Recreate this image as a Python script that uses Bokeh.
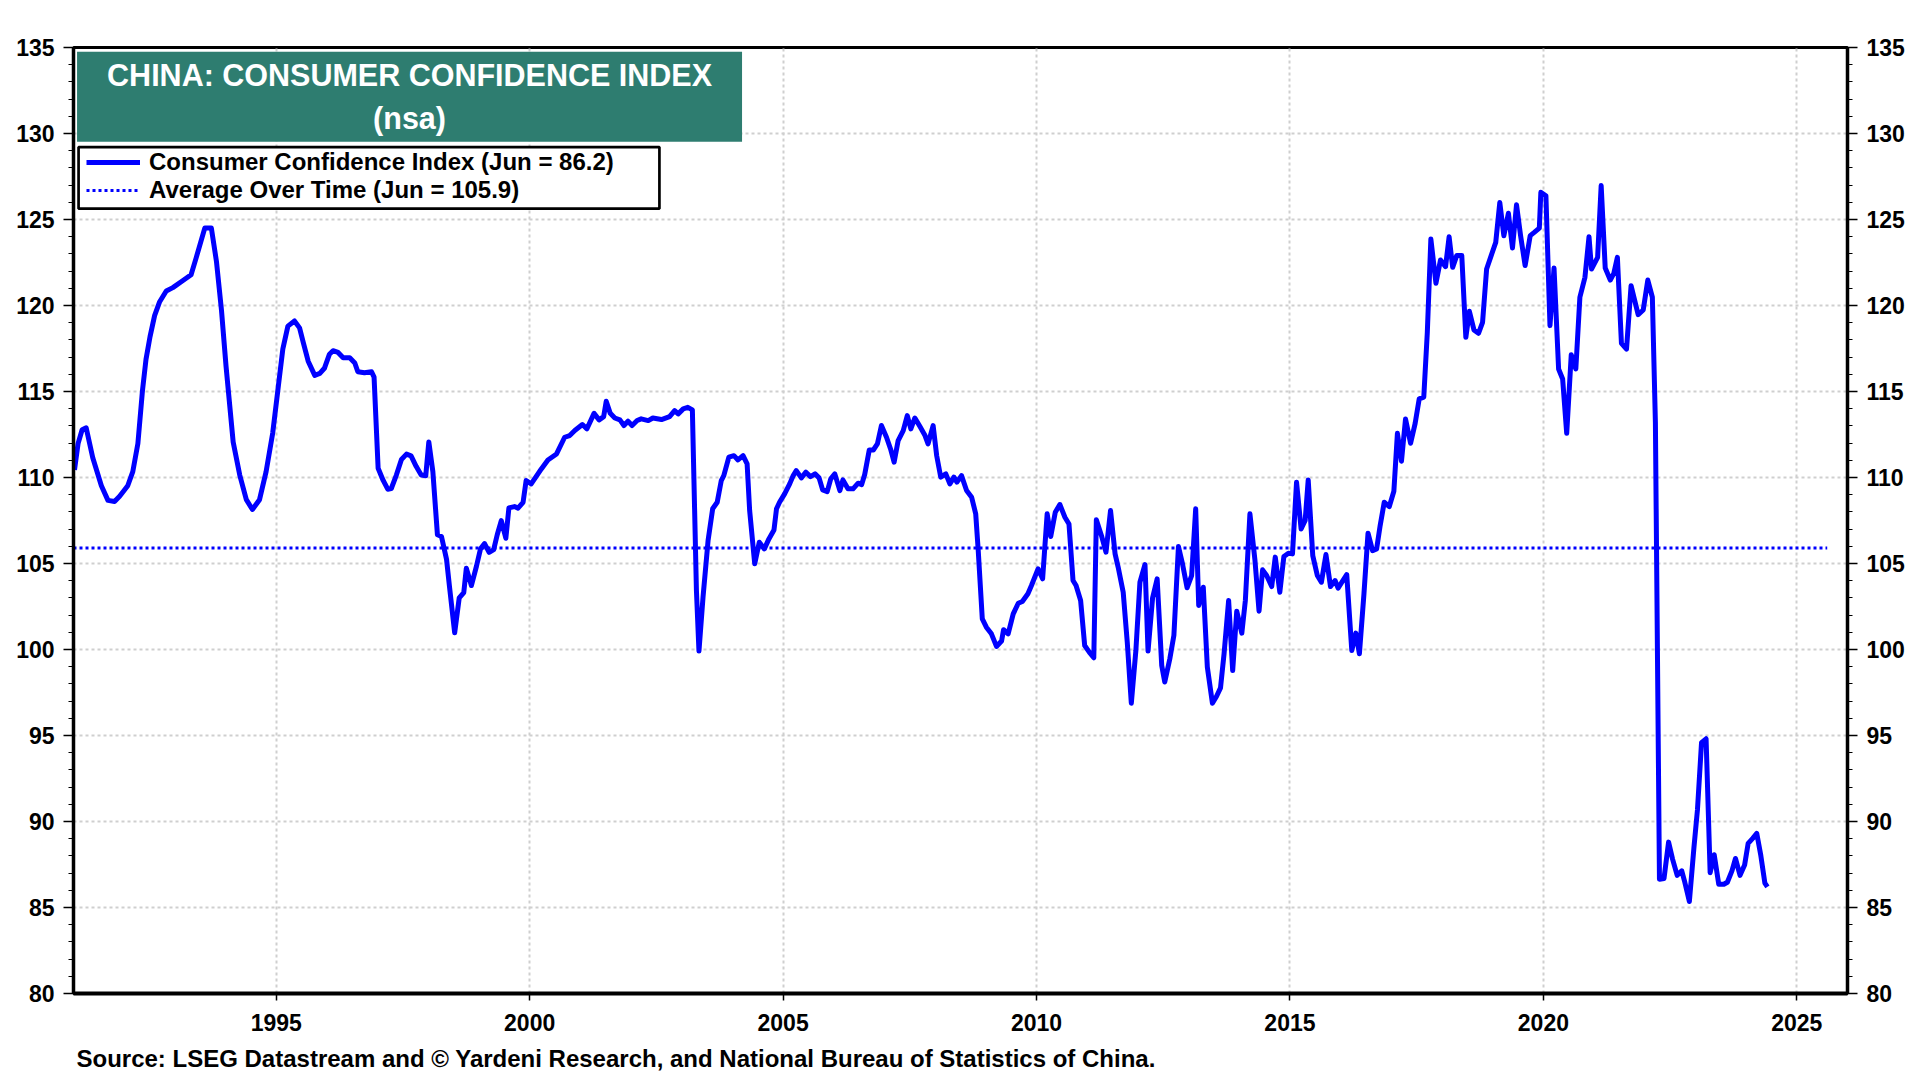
from bokeh.plotting import figure
from bokeh.models import Range1d, LinearAxis, FixedTicker, BoxAnnotation, Label, Legend, LegendItem, Title
from bokeh.embed import file_html
from bokeh.resources import INLINE

# ---------------- data ----------------
dates = [
 1991.02,1991.09,1991.17,1991.25,1991.38,1991.55,1991.68,1991.81,1991.91,1992.07,1992.17,1992.27,1992.36,1992.43,
 1992.51,1992.60,1992.70,1992.83,1992.96,1993.16,1993.32,1993.42,1993.59,1993.72,1993.82,1993.92,1994.01,1994.15,
 1994.28,1994.41,1994.53,1994.67,1994.80,1994.93,1995.03,1995.13,1995.23,1995.36,1995.46,1995.53,1995.63,1995.76,
 1995.86,1995.95,1996.05,1996.12,1996.22,1996.32,1996.45,1996.55,1996.61,1996.74,1996.88,1996.93,1997.01,1997.11,
 1997.20,1997.27,1997.37,1997.47,1997.57,1997.66,1997.76,1997.86,1997.95,1998.01,1998.09,1998.18,1998.26,1998.36,
 1998.42,1998.52,1998.61,1998.70,1998.75,1998.85,1998.95,1999.03,1999.11,1999.20,1999.29,1999.36,1999.44,1999.53,
 1999.59,1999.70,1999.77,1999.87,1999.93,2000.03,2000.12,2000.23,2000.36,2000.53,2000.69,2000.79,2000.89,2001.04,
 2001.13,2001.27,2001.37,2001.46,2001.51,2001.59,2001.68,2001.78,2001.86,2001.94,2002.02,2002.12,2002.20,2002.34,
 2002.43,2002.60,2002.76,2002.86,2002.93,2003.03,2003.12,2003.21,2003.29,2003.34,2003.42,2003.52,2003.61,2003.70,
 2003.78,2003.83,2003.93,2004.03,2004.11,2004.21,2004.29,2004.34,2004.44,2004.53,2004.63,2004.72,2004.82,2004.87,
 2004.93,2005.03,2005.13,2005.20,2005.26,2005.36,2005.45,2005.54,2005.63,2005.71,2005.78,2005.87,2005.94,2006.02,
 2006.12,2006.18,2006.28,2006.38,2006.48,2006.55,2006.61,2006.70,2006.78,2006.86,2006.94,2007.04,2007.12,2007.19,
 2007.27,2007.37,2007.45,2007.52,2007.60,2007.70,2007.80,2007.86,2007.96,2008.03,2008.11,2008.21,2008.29,2008.37,
 2008.43,2008.52,2008.62,2008.72,2008.80,2008.85,2008.93,2009.01,2009.11,2009.21,2009.31,2009.35,2009.44,2009.54,
 2009.64,2009.72,2009.83,2009.90,2010.03,2010.12,2010.21,2010.28,2010.37,2010.46,2010.56,2010.64,2010.72,2010.78,
 2010.87,2010.95,2011.04,2011.13,2011.18,2011.28,2011.37,2011.46,2011.55,2011.61,2011.71,2011.79,2011.87,2011.96,
 2012.04,2012.14,2012.20,2012.29,2012.38,2012.47,2012.53,2012.63,2012.71,2012.80,2012.88,2012.97,2013.06,2013.14,
 2013.20,2013.29,2013.37,2013.47,2013.55,2013.63,2013.70,2013.79,2013.87,2013.95,2014.05,2014.12,2014.21,2014.31,
 2014.39,2014.46,2014.54,2014.64,2014.71,2014.80,2014.88,2014.97,2015.05,2015.13,2015.22,2015.30,2015.36,2015.45,
 2015.54,2015.62,2015.71,2015.80,2015.89,2015.95,2016.12,2016.22,2016.30,2016.37,2016.46,2016.54,2016.63,2016.71,
 2016.78,2016.86,2016.96,2017.05,2017.12,2017.20,2017.28,2017.38,2017.47,2017.55,2017.64,2017.71,2017.78,2017.88,
 2017.97,2018.07,2018.14,2018.21,2018.29,2018.39,2018.47,2018.54,2018.63,2018.72,2018.80,2018.88,2018.97,2019.06,
 2019.14,2019.22,2019.31,2019.39,2019.47,2019.55,2019.64,2019.74,2019.82,2019.92,2019.95,2020.05,2020.13,2020.21,
 2020.30,2020.38,2020.46,2020.55,2020.64,2020.72,2020.82,2020.90,2020.95,2021.07,2021.14,2021.22,2021.32,2021.39,
 2021.46,2021.54,2021.64,2021.73,2021.87,2021.97,2022.06,2022.15,2022.21,2022.29,2022.38,2022.47,2022.55,2022.64,
 2022.73,2022.79,2022.88,2022.97,2023.04,2023.12,2023.21,2023.29,2023.37,2023.46,2023.56,2023.63,2023.72,2023.79,
 2023.88,2023.97,2024.04,2024.13,2024.21,2024.29,2024.37,2024.42,
]
cci = [
 110.44,111.97,112.78,112.89,111.15,109.52,108.67,108.61,108.91,109.52,110.34,111.97,115.03,116.86,
 118.19,119.41,120.22,120.84,121.04,121.45,121.79,122.77,124.50,124.50,122.57,119.71,116.45,112.07,
 110.14,108.71,108.14,108.71,110.34,112.58,115.03,117.47,118.80,119.10,118.70,117.88,116.76,115.94,
 116.05,116.35,117.17,117.37,117.27,116.96,116.96,116.66,116.15,116.09,116.15,115.84,110.54,109.83,
 109.32,109.36,110.14,111.05,111.36,111.26,110.65,110.14,110.10,112.07,110.34,106.67,106.57,105.24,
 103.61,100.97,103.00,103.31,104.73,103.72,104.84,105.85,106.16,105.65,105.81,106.67,107.49,106.47,
 108.23,108.31,108.22,108.56,109.82,109.63,110.02,110.50,111.02,111.37,112.34,112.44,112.73,113.08,
 112.83,113.73,113.35,113.54,114.43,113.73,113.46,113.35,113.02,113.27,113.02,113.31,113.41,113.31,
 113.46,113.37,113.54,113.89,113.70,113.99,114.08,113.93,103.43,99.91,103.04,106.34,108.18,108.56,
 109.82,110.11,111.18,111.27,111.02,111.27,110.79,108.08,104.98,106.24,105.85,106.43,106.95,108.18,
 108.56,109.05,109.63,110.11,110.40,109.98,110.31,110.05,110.21,109.98,109.28,109.18,109.92,110.21,
 109.24,109.86,109.34,109.34,109.67,109.59,110.17,111.60,111.60,111.95,113.02,112.34,111.66,110.89,
 112.15,112.73,113.60,112.83,113.46,112.96,112.44,111.95,113.02,111.27,110.02,110.21,109.63,110.02,
 109.73,110.11,109.24,108.85,107.89,105.75,101.78,101.30,100.91,100.18,100.49,101.15,100.91,102.07,
 102.69,102.79,103.24,103.72,104.69,104.11,107.89,106.57,107.98,108.43,107.69,107.30,104.01,103.72,
 102.85,100.23,99.85,99.52,107.54,106.63,105.66,108.08,105.56,104.79,103.33,100.43,96.88,99.94,
 103.91,104.94,99.91,103.01,104.11,99.07,98.11,99.46,100.82,105.99,104.98,103.59,104.30,108.18,
 102.56,103.62,98.97,96.88,97.27,97.77,99.75,102.85,98.78,102.23,100.95,102.85,107.89,105.17,
 102.23,104.63,104.30,103.66,105.37,103.33,105.41,105.60,105.56,109.73,107.01,107.50,109.86,105.46,
 104.30,103.91,105.52,103.66,104.01,103.57,104.36,99.94,100.95,99.75,103.24,106.76,105.75,105.85,
 107.21,108.56,108.31,109.20,112.57,110.95,113.40,111.99,113.15,114.57,114.67,118.44,123.87,121.29,
 122.65,122.26,124.00,122.22,122.90,122.90,118.15,119.66,118.58,118.38,119.02,122.12,122.90,123.67,
 125.99,124.06,125.36,123.34,125.86,124.06,122.32,124.06,124.25,124.50,126.58,126.38,118.83,122.18,
 116.31,115.73,112.57,117.14,116.31,120.48,121.64,124.00,122.12,122.80,126.97,122.18,121.48,121.87,
 122.80,117.80,117.47,121.15,119.47,119.74,121.48,120.48,113.20,86.64,86.69,88.80,87.80,86.87,
 87.13,86.47,85.35,88.47,90.69,94.58,94.81,87.02,88.07,86.35,86.35,86.47,87.13,87.85,
 86.87,87.47,88.73,89.02,89.31,88.02,86.42,86.20,
]
avg_value = 105.9
avg_span = [1991.0, 2025.6]

x_ticks = [1995, 2000, 2005, 2010, 2015, 2020, 2025]
y_ticks = list(range(80, 136, 5))
y_minor = list(range(80, 136, 1))

title_lines = ["CHINA: CONSUMER CONFIDENCE INDEX", "(nsa)"]
legend_labels = ["Consumer Confidence Index (Jun = 86.2)", "Average Over Time (Jun = 105.9)"]
source_text = "Source: LSEG Datastream and \u00a9 Yardeni Research, and National Bureau of Statistics of China."

FONT = "Liberation Sans"
BLUE = "#0000ff"

p = figure(frame_width=1774, frame_height=946, x_range=Range1d(1991, 2026), y_range=Range1d(80, 135),
           output_backend="svg", toolbar_location=None,
           min_border_left=73, min_border_right=57, min_border_top=47, min_border_bottom=40,
           background_fill_color="white", border_fill_color="white",
           outline_line_color="black", outline_line_width=3)

# axes
p.xaxis.ticker = FixedTicker(ticks=x_ticks)
p.yaxis.ticker = FixedTicker(ticks=y_ticks, minor_ticks=y_minor)
right = LinearAxis(ticker=FixedTicker(ticks=y_ticks, minor_ticks=y_minor))
p.add_layout(right, "right")

for ax in [p.xaxis[0], p.yaxis[0], right]:
    ax.axis_line_color = "black"
    ax.axis_line_width = 3.5
    ax.major_tick_line_color = "black"
    ax.major_tick_line_width = 1.5
    ax.major_tick_out = 10
    ax.major_tick_in = 0
    ax.minor_tick_line_color = "black"
    ax.minor_tick_line_width = 1
    ax.minor_tick_out = 5
    ax.minor_tick_in = 0
    ax.major_label_text_font = FONT
    ax.major_label_text_font_style = "bold"
    ax.major_label_text_font_size = "23px"
    ax.major_label_text_color = "black"
xa = p.xaxis[0]
xa.axis_line_width = 4
xa.minor_tick_line_color = None
xa.minor_tick_out = 0
xa.major_tick_out = 7
xa.major_label_standoff = 13
p.yaxis[0].major_label_standoff = 9
right.major_label_standoff = 9

# grid
p.xgrid.ticker = FixedTicker(ticks=x_ticks)
p.ygrid.ticker = FixedTicker(ticks=y_ticks)
for g in [p.xgrid[0], p.ygrid[0]]:
    g.grid_line_color = "#cfcfcf"
    g.grid_line_width = 2
    g.grid_line_dash = "3 3"

# series
avg_r = p.line(avg_span, [avg_value, avg_value], line_color=BLUE, line_width=3, line_dash="3 3")
main_r = p.line(dates, cci, line_color=BLUE, line_width=5, line_join="round")

# title box
p.add_layout(BoxAnnotation(left=1991.07, right=2004.19, top=134.75, bottom=129.52,
                           fill_color="#2e7d70", fill_alpha=1, line_color=None))
p.add_layout(Label(x=1997.63, y=133.42, text=title_lines[0], text_align="center", text_baseline="middle",
                   text_font=FONT, text_font_style="bold", text_font_size="30.5px", text_color="white"))
p.add_layout(Label(x=1997.63, y=130.88, text=title_lines[1], text_align="center", text_baseline="middle",
                   text_font=FONT, text_font_style="bold", text_font_size="30.5px", text_color="white"))

# legend box + legend
p.add_layout(BoxAnnotation(left=1991.10, right=2002.56, top=129.21, bottom=125.63,
                           fill_color="white", fill_alpha=1, line_color="black", line_alpha=1, line_width=2.7))
leg = Legend(items=[LegendItem(label=legend_labels[0], renderers=[main_r]),
                    LegendItem(label=legend_labels[1], renderers=[avg_r])],
             location=(13, 789), margin=0, padding=0, spacing=0,
             glyph_width=54, glyph_height=26, label_height=26, label_standoff=9,
             label_text_font=FONT, label_text_font_style="bold", label_text_font_size="24px",
             label_text_color="black", border_line_color=None, background_fill_alpha=0)
p.add_layout(leg)

# source note
src = Title(text=source_text, align="left", offset=3, standoff=18,
            text_font=FONT, text_font_style="bold", text_font_size="24px", text_color="black")
p.add_layout(src, "below")

open("out.html", "w").write(file_html(p, INLINE))
